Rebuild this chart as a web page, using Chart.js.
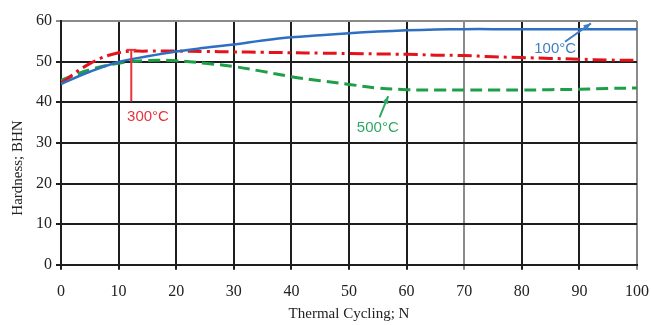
<!DOCTYPE html>
<html>
<head>
<meta charset="utf-8">
<script src="https://cdn.jsdelivr.net/npm/chart.js@4"></script>
<style>
html, body { margin: 0; padding: 0; background: #fff; }
#wrap { width: 651px; height: 325px; }
</style>
</head>
<body>
<div id="wrap"><canvas id="hardnessChart" width="651" height="325"></canvas></div>
<script>
// chart values
const cycles = [0, 5, 10, 15, 20, 25, 30, 35, 40, 45, 50, 55, 60, 65, 70, 75, 80, 85, 90, 95, 100];
const hard100 = [44.5, 47.5, 49.9, 51.3, 52.5, 53.4, 54.2, 55.2, 56, 56.5, 57, 57.4, 57.7, 57.9, 58, 58, 58, 58, 58, 58, 58];
const hard300 = [44.7, 49.5, 52.2, 52.6, 52.6, 52.5, 52.4, 52.3, 52.2, 52.1, 52, 51.9, 51.8, 51.6, 51.5, 51.2, 51, 50.8, 50.6, 50.4, 50.3];
const hard500 = [45.4, 48, 49.6, 50.3, 50.2, 49.6, 48.8, 47.6, 46.3, 45.3, 44.4, 43.5, 43.1, 43, 43, 43, 43, 43.1, 43.2, 43.4, 43.5];
const xTicks = [0, 10, 20, 30, 40, 50, 60, 70, 80, 90, 100];
const yTicks = [0, 10, 20, 30, 40, 50, 60];

function toPoints(ys){
  return cycles.map((c, i) => ({x: c, y: ys[i]}));
}

// labels with leader lines, placed in data units
const notes = [
  {text: '100°C', color: '#3f7fc4', tx: 85.8, ty: 53.2, from: [87.5, 54.9], to: [92, 59.4], arrow: true},
  {text: '300°C', color: '#e8323c', tx: 15.1, ty: 36.3, from: [12.2, 40.2], to: [12.2, 52.9], arrow: false},
  {text: '500°C', color: '#2fa865', tx: 55, ty: 33.7, from: [55.3, 36.3], to: [56.8, 41.5], arrow: true}
];

const notesPlugin = {
  id: 'notes',
  afterDatasetsDraw(chart){
    const c = chart.ctx, xs = chart.scales.x, ys = chart.scales.y;
    c.save();
    notes.forEach(n => {
      const x1 = xs.getPixelForValue(n.from[0]), y1 = ys.getPixelForValue(n.from[1]);
      const x2 = xs.getPixelForValue(n.to[0]), y2 = ys.getPixelForValue(n.to[1]);
      c.strokeStyle = n.color;
      c.fillStyle = n.color;
      c.lineWidth = 2;
      c.beginPath();
      c.moveTo(x1, y1);
      c.lineTo(x2, y2);
      c.stroke();
      if(n.arrow){
        const a = Math.atan2(y2 - y1, x2 - x1);
        c.beginPath();
        c.moveTo(x2, y2);
        c.lineTo(x2 - 8 * Math.cos(a - 0.4), y2 - 8 * Math.sin(a - 0.4));
        c.lineTo(x2 - 8 * Math.cos(a + 0.4), y2 - 8 * Math.sin(a + 0.4));
        c.closePath();
        c.fill();
      } else {
        c.beginPath();
        c.moveTo(x2 - 5, y2);
        c.lineTo(x2 + 5, y2);
        c.stroke();
      }
      c.font = '15px "Liberation Sans"';
      c.textAlign = 'center';
      c.textBaseline = 'middle';
      c.fillText(n.text, xs.getPixelForValue(n.tx), ys.getPixelForValue(n.ty));
    });
    // y axis title sits lower than the centre of the plot
    c.fillStyle = '#222';
    c.font = '15px "Liberation Serif"';
    c.translate(18, 168);
    c.rotate(-Math.PI / 2);
    c.textAlign = 'center';
    c.textBaseline = 'middle';
    c.fillText('Hardness; BHN', 0, 0);
    c.restore();
  }
};

function xGridColor(ctx){
  const v = ctx.tick ? ctx.tick.value : null;
  if(v === 70 || v === 100) return '#8a8a8a';
  return '#1e1e1e';
}

function yGridColor(ctx){
  const v = ctx.tick ? ctx.tick.value : null;
  if(v === 60) return '#8a8a8a';
  return '#1e1e1e';
}

const ctx = document.getElementById('hardnessChart');

new Chart(ctx, {
  type: 'line',
  data: {
    datasets: [
      {label: '100°C', data: toPoints(hard100), borderColor: '#2e6fc2', borderWidth: 2.5, tension: 0.4, pointRadius: 0},
      {label: '300°C', data: toPoints(hard300), borderColor: '#e3121b', borderWidth: 3, borderDash: [14, 5, 3, 5], tension: 0.4, pointRadius: 0},
      {label: '500°C', data: toPoints(hard500), borderColor: '#1f9e48', borderWidth: 3, borderDash: [12, 6], tension: 0.4, pointRadius: 0}
    ]
  },
  options: {
    responsive: false,
    animation: false,
    layout: {padding: {left: 32, right: 14, top: 21, bottom: 0}},
    plugins: {legend: {display: false}, tooltip: {enabled: false}},
    scales: {
      x: {
        type: 'linear',
        min: 0,
        max: 100,
        afterBuildTicks: axis => { axis.ticks = xTicks.map(v => ({value: v})); },
        afterFit: axis => { axis.paddingRight = 0; },
        ticks: {color: '#222', font: {family: 'Liberation Serif', size: 16}, padding: 12},
        grid: {color: xGridColor, lineWidth: 2, tickLength: 5},
        border: {color: '#1e1e1e', width: 2},
        title: {display: true, text: 'Thermal Cycling; N', color: '#222', font: {family: 'Liberation Serif', size: 15}, padding: {top: -8, bottom: 2}}
      },
      y: {
        min: 0,
        max: 60,
        afterBuildTicks: axis => { axis.ticks = yTicks.map(v => ({value: v})); },
        ticks: {color: '#222', font: {family: 'Liberation Serif', size: 16}, padding: 4},
        grid: {color: yGridColor, lineWidth: 2, tickLength: 5},
        border: {color: '#1e1e1e', width: 2}
      }
    }
  },
  plugins: [notesPlugin]
});
</script>
</body>
</html>
